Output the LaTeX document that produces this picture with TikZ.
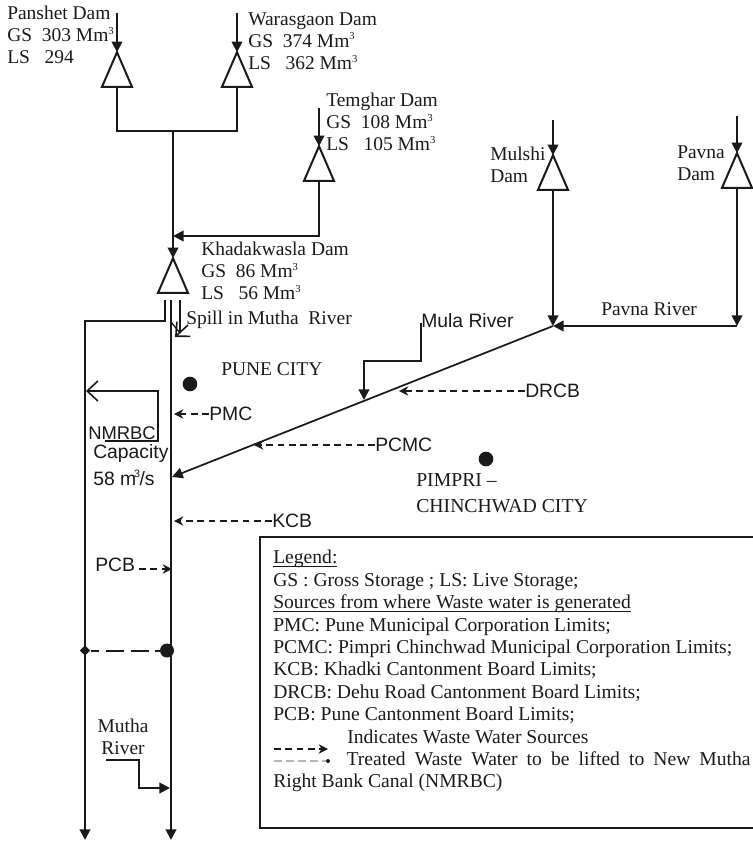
\documentclass[tikz,border=0pt]{standalone}
\usepackage{fontspec}
\setmainfont{Liberation Serif}
\setsansfont{Liberation Sans}
\usetikzlibrary{arrows.meta, positioning, shapes.geometric}
\definecolor{inkdark}{HTML}{1A1A1A}
\definecolor{treatgray}{HTML}{B4B4B4}
\newcommand{\cubed}{\raisebox{5.5pt}{\fontsize{8}{8}\selectfont 3}}
\newcommand{\legendul}[1]{\setbox0=\hbox{#1}\rlap{\rule[-2pt]{\wd0}{0.6pt}}\box0}

\begin{document}
\begin{tikzpicture}[
    x=0.75pt, y=-0.75pt,
    % ── shared styles ──
    dam mark/.style={isosceles triangle, isosceles triangle stretches,
        shape border rotate=90, draw=inkdark, line width=1.5pt, fill=white,
        minimum width=22.5pt, minimum height=26pt, inner sep=0pt, outer sep=0pt},
    river/.style={draw=inkdark, line width=1.5pt},
    inflow/.style={river, -{Triangle[length=8pt, width=8pt]}},
    open flow/.style={draw=inkdark, line width=1.2pt, -{Straight Barb[length=8pt, width=15pt]}},
    waste arrow/.style={draw=inkdark, line width=0.9pt, dash pattern=on 5pt off 3.5pt,
        -{Stealth[length=7pt, width=7pt]}},
    site dot/.style={circle, fill=inkdark, inner sep=0pt, minimum size=#1},
    serif label/.style={font=\fontsize{14.6}{16.6}\selectfont, text=inkdark, align=left,
        anchor=west, inner sep=0pt},
    sans label/.style={font=\fontsize{14.5}{18}\selectfont\sffamily, text=inkdark, align=left,
        anchor=west, inner sep=0pt},
    legend text/.style={font=\fontsize{14.7}{16.8}\selectfont, text=inkdark, align=left,
        anchor=north west, inner sep=0pt},
]
\useasboundingbox (0,0) rectangle (753,843);

% ══════════════════════════════════════════════════════════════════════
%  DAMS
% ══════════════════════════════════════════════════════════════════════
\node[dam mark] (panshet) at (117,77) {};
\node[dam mark] (warasgaon) at (237,77) {};
\node[dam mark] (temghar) at (319,171) {};
\node[dam mark] (khadak) at (173,283) {};
\node[dam mark] (mulshi) at (553,180) {};
\node[dam mark] (pavna) at (737,178) {};

\node[serif label] (panshetT) at (7,35) {Panshet Dam\\GS~~303 Mm\cubed\\LS~~~294};
\node[serif label] (warasT) at (248,41) {Warasgaon Dam\\GS~~374 Mm\cubed\\LS~~~362 Mm\cubed};
\node[serif label] (temgharT) at (326,122) {Temghar Dam\\GS~~108 Mm\cubed\\LS~~~105 Mm\cubed};
\node[serif label] (khadakT) at (201,271) {Khadakwasla Dam\\GS~~86 Mm\cubed\\LS~~~56 Mm\cubed};
\node[serif label] (mulshiT) at (490,165) {Mulshi\\Dam};
\node[serif label] (pavnaT) at (677,163) {Pavna\\Dam};

% ══════════════════════════════════════════════════════════════════════
%  INFLOWS + UPPER JUNCTIONS
% ══════════════════════════════════════════════════════════════════════
\coordinate (panshetIn) at (117,13);
\coordinate (warasIn) at (237,13);
\coordinate (temgharIn) at (319,108);
\coordinate (mulshiIn) at (553,120);
\coordinate (pavnaIn) at (737,116);
\coordinate (joinA) at (173,131);
\coordinate (joinB) at (173,236);
\coordinate (mulaJoin) at (553,326);
\coordinate (pavnaEnd) at (737,326);

\draw[inflow] (panshetIn) -- (panshet.apex);
\draw[inflow] (warasIn) -- (warasgaon.apex);
\draw[inflow] (temgharIn) -- (temghar.apex);
\draw[inflow] (mulshiIn) -- (mulshi.apex);
\draw[inflow] (pavnaIn) -- (pavna.apex);

\draw[river] (panshet.lower side) |- (joinA) -| (warasgaon.lower side);
\draw[inflow] (joinA) -- (khadak.apex);
\draw[inflow] (temghar.lower side) |- (joinB);
\draw[inflow] (mulshi.lower side) -- (mulaJoin);
\draw[inflow] (pavna.lower side) -- (pavnaEnd);
\draw[inflow] (pavnaEnd) -- (mulaJoin);

\node[serif label] (pavnaRiver) at (601,309) {Pavna River};

% ══════════════════════════════════════════════════════════════════════
%  MUTHA RIVER + NMRBC CANAL
% ══════════════════════════════════════════════════════════════════════
\coordinate (muthaTop) at (171,300);
\coordinate (muthaEnd) at (171,840);
\coordinate (canalTop) at (165,300);
\coordinate (canalBend) at (165,321);
\coordinate (canalLeft) at (85,321);
\coordinate (canalEnd) at (85,840);
\coordinate (spillTop) at (180,300);
\coordinate (spillBend) at (180,333);
\coordinate (spillTip) at (175,337);
\coordinate (spillStub) at (171,322);
\coordinate (spillFoot) at (188,325);

\draw[inflow] (muthaTop) -- (muthaEnd);
\draw[inflow] (canalTop) -- (canalBend) -- (canalLeft) -- (canalEnd);
\draw[draw=inkdark, line width=1.2pt] (spillTop) -- (spillBend);
\draw[draw=inkdark, line width=1pt] (spillStub) -- (spillBend);
\draw[open flow] (spillFoot) -- (spillTip);

\node[serif label] (spillT) at (186,320) {Spill in Mutha~~River};

% NMRBC loop
\coordinate (nmrbcTip) at (86,391);
\coordinate (nmrbcA) at (158,391);
\coordinate (nmrbcB) at (158,441);
\coordinate (nmrbcC) at (105,441);
\draw[open flow] (nmrbcC) -- (nmrbcB) -- (nmrbcA) -- (nmrbcTip);

\node[sans label, font=\fontsize{13.8}{18}\selectfont\sffamily] (nmrbcT) at (88,433) {NMRBC};
\node[sans label] (capT) at (93,453) {Capacity};
\node[sans label] (rateT) at (93,478) {58 m\kern-1.5pt\cubed\kern-0.5pt/s};

% Mutha River feed
\coordinate (feedA) at (106,760);
\coordinate (feedB) at (139,760);
\coordinate (feedC) at (139,788);
\coordinate (feedD) at (170,788);
\draw[inflow] (feedA) -- (feedB) -- (feedC) -- (feedD);
\node[serif label, align=center, anchor=center] (feedT) at (123,737) {Mutha\\River};

% ══════════════════════════════════════════════════════════════════════
%  MULA RIVER
% ══════════════════════════════════════════════════════════════════════
\coordinate (mulaTip) at (172,477);
\draw[inflow, line width=1.3pt] (mulaJoin) -- (mulaTip);

\node[sans label] (mulaT) at (421,321) {Mula River};
\coordinate (mulaA) at (421,323);
\coordinate (mulaB) at (421,361);
\coordinate (mulaC) at (364,361);
\coordinate (mulaD) at (364,400);
\draw[inflow] (mulaA) -- (mulaB) -- (mulaC) -- (mulaD);

% ══════════════════════════════════════════════════════════════════════
%  WASTE WATER SOURCES
% ══════════════════════════════════════════════════════════════════════
\node[sans label] (pmc) at (209,414) {PMC};
\node[sans label] (drcb) at (525,391) {DRCB};
\node[sans label] (pcmc) at (375,445) {PCMC};
\node[sans label] (kcb) at (272,521) {KCB};
\node[sans label] (pcb) at (95,565) {PCB};

\coordinate (pmcTip) at (174,414);
\coordinate (drcbTip) at (399,391);
\coordinate (pcmcTip) at (254,445);
\coordinate (kcbTip) at (174,521);
\coordinate (pcbStart) at (139,569);
\coordinate (pcbTip) at (172,569);

\draw[waste arrow] (pmc.west) -- (pmcTip);
\draw[waste arrow] (drcb.west) -- (drcbTip);
\draw[waste arrow] (pcmc.west) -- (pcmcTip);
\draw[waste arrow] (kcb.west) -- (kcbTip);
\draw[waste arrow] (pcbStart) -- (pcbTip);

% treated water lift
\node[site dot=10.5pt] (liftDot) at (167,650.5) {};
\node[diamond, fill=inkdark, inner sep=0pt, minimum size=8pt] (liftEnd) at (85,650.5) {};
\draw[draw=inkdark, line width=1.5pt, dash pattern=on 13.5pt off 5pt, dash phase=7pt] (liftEnd) -- (liftDot);

% ══════════════════════════════════════════════════════════════════════
%  CITIES
% ══════════════════════════════════════════════════════════════════════
\node[site dot=11pt] (puneDot) at (190,384) {};
\node[site dot=11pt] (pimpriDot) at (486,459) {};
\node[serif label] (puneT) at (221,369) {PUNE CITY};
\node[serif label, font=\fontsize{14.8}{19.5}\selectfont] (pimpriT) at (416,493) {PIMPRI --\\CHINCHWAD CITY};

% ══════════════════════════════════════════════════════════════════════
%  LEGEND
% ══════════════════════════════════════════════════════════════════════
\draw[draw=inkdark, line width=1.2pt] (753,537) -| (260,828) -- (753,828);
\node[legend text] (legendT) at (273,550) {\legendul{Legend:}\\
    GS : Gross Storage ; LS: Live Storage;\\
    \legendul{Sources from where Waste water is generated}\\
    PMC: Pune Municipal Corporation Limits;\\
    PCMC: Pimpri Chinchwad Municipal Corporation Limits;\\
    KCB: Khadki Cantonment Board Limits;\\
    DRCB: Dehu Road Cantonment Board Limits;\\
    PCB: Pune Cantonment Board Limits;\\
    \hspace*{55.5pt}Indicates Waste Water Sources\\
    \hspace*{55pt}\makebox[303pt][s]{Treated Waste Water to be lifted to New Mutha}\\
    Right Bank Canal (NMRBC)};

\coordinate (keyA) at (274,749);
\coordinate (keyB) at (328,749);
\coordinate (keyC) at (274,761);
\node[circle, fill=inkdark, inner sep=0pt, minimum size=3pt] (keyDot) at (328,761) {};
\draw[waste arrow] (keyA) -- (keyB);
\draw[draw=treatgray, line width=2pt, dash pattern=on 6pt off 3pt] (keyC) -- (keyDot);

\end{tikzpicture}
\end{document}
